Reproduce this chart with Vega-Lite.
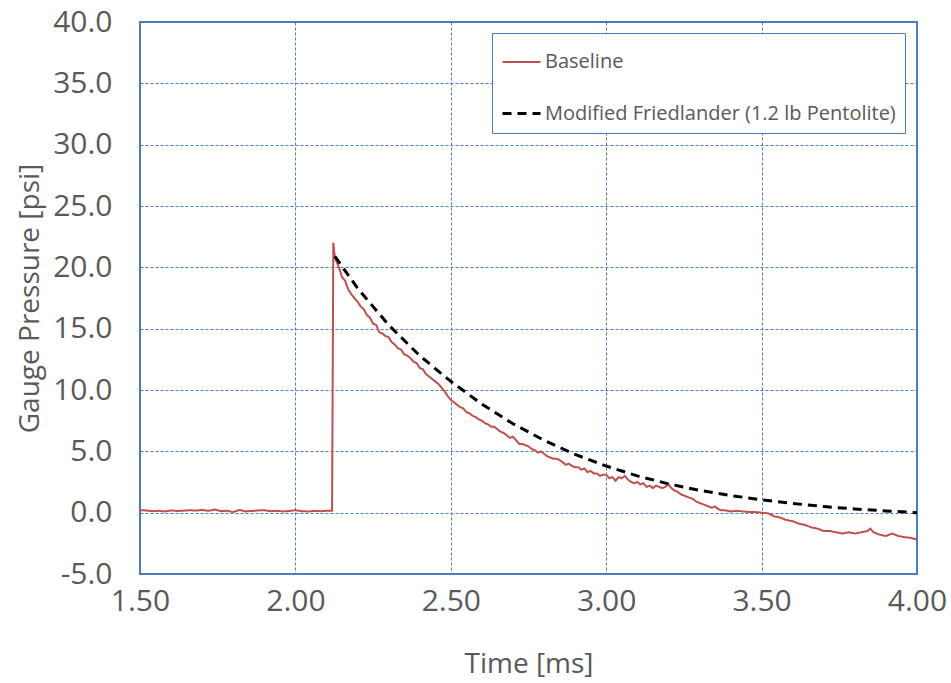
{
  "$schema": "https://vega.github.io/schema/vega-lite/v6.json",
  "width": 777,
  "height": 552,
  "autosize": "none",
  "padding": {"left": 140, "top": 22, "right": 34, "bottom": 109},
  "background": "white",
  "config": {
    "view": {"stroke": "#4A7EBB", "strokeWidth": 2},
    "axis": {
      "grid": true,
      "gridColor": "#4A7EBB",
      "gridDash": [3, 2],
      "gridWidth": 1,
      "gridOpacity": 1,
      "domain": false,
      "ticks": false,
      "labelFlush": false,
      "labelOverlap": false,
      "labelColor": "#595959",
      "labelFont": "Open Sans",
      "labelFontSize": 30,
      "titleColor": "#595959",
      "titleFont": "Open Sans",
      "titleFontSize": 28,
      "titleFontWeight": "normal"
    },
    "legend": {
      "labelFont": "Open Sans",
      "labelColor": "#595959"
    }
  },
  "datasets": {
    "baseline": [
      {"t": 1.50, "p": 0.20}, {"t": 1.52, "p": 0.18}, {"t": 1.54, "p": 0.12}, {"t": 1.56, "p": 0.15},
      {"t": 1.58, "p": 0.10}, {"t": 1.60, "p": 0.18}, {"t": 1.62, "p": 0.14}, {"t": 1.64, "p": 0.16},
      {"t": 1.66, "p": 0.20}, {"t": 1.68, "p": 0.17}, {"t": 1.70, "p": 0.22}, {"t": 1.72, "p": 0.15},
      {"t": 1.74, "p": 0.25}, {"t": 1.76, "p": 0.12}, {"t": 1.78, "p": 0.15}, {"t": 1.80, "p": 0.05},
      {"t": 1.82, "p": 0.22}, {"t": 1.84, "p": 0.10}, {"t": 1.86, "p": 0.14}, {"t": 1.88, "p": 0.18},
      {"t": 1.90, "p": 0.20}, {"t": 1.92, "p": 0.12}, {"t": 1.94, "p": 0.15}, {"t": 1.96, "p": 0.10},
      {"t": 1.98, "p": 0.14}, {"t": 2.00, "p": 0.20}, {"t": 2.02, "p": 0.12}, {"t": 2.04, "p": 0.10},
      {"t": 2.06, "p": 0.14}, {"t": 2.08, "p": 0.12}, {"t": 2.10, "p": 0.15}, {"t": 2.118, "p": 0.15},
      {"t": 2.122, "p": 22.0}, {"t": 2.126, "p": 21.0}, {"t": 2.13, "p": 20.6},
      {"t": 2.14, "p": 20.0}, {"t": 2.15, "p": 19.2}, {"t": 2.16, "p": 18.9}, {"t": 2.17, "p": 18.2},
      {"t": 2.18, "p": 17.8}, {"t": 2.19, "p": 17.5}, {"t": 2.20, "p": 17.2}, {"t": 2.21, "p": 16.8},
      {"t": 2.22, "p": 16.6}, {"t": 2.23, "p": 16.1}, {"t": 2.24, "p": 15.9}, {"t": 2.25, "p": 15.4},
      {"t": 2.26, "p": 15.3}, {"t": 2.27, "p": 14.7}, {"t": 2.28, "p": 14.6}, {"t": 2.29, "p": 14.4},
      {"t": 2.30, "p": 14.3}, {"t": 2.31, "p": 13.9}, {"t": 2.32, "p": 13.7}, {"t": 2.33, "p": 13.4},
      {"t": 2.34, "p": 13.3}, {"t": 2.35, "p": 12.9}, {"t": 2.36, "p": 12.8}, {"t": 2.37, "p": 12.6},
      {"t": 2.38, "p": 12.3}, {"t": 2.39, "p": 12.2}, {"t": 2.40, "p": 11.8}, {"t": 2.41, "p": 11.7},
      {"t": 2.42, "p": 11.3}, {"t": 2.43, "p": 11.1}, {"t": 2.44, "p": 10.9}, {"t": 2.45, "p": 10.7},
      {"t": 2.46, "p": 10.5}, {"t": 2.47, "p": 10.2}, {"t": 2.48, "p": 9.9}, {"t": 2.49, "p": 9.5},
      {"t": 2.50, "p": 9.2}, {"t": 2.51, "p": 9.0}, {"t": 2.52, "p": 8.8}, {"t": 2.53, "p": 8.6},
      {"t": 2.54, "p": 8.5}, {"t": 2.55, "p": 8.2}, {"t": 2.56, "p": 8.1}, {"t": 2.57, "p": 7.9},
      {"t": 2.58, "p": 7.8}, {"t": 2.59, "p": 7.6}, {"t": 2.60, "p": 7.5}, {"t": 2.61, "p": 7.3},
      {"t": 2.62, "p": 7.2}, {"t": 2.63, "p": 7.0}, {"t": 2.64, "p": 7.0}, {"t": 2.65, "p": 6.8},
      {"t": 2.66, "p": 6.6}, {"t": 2.67, "p": 6.5}, {"t": 2.68, "p": 6.3}, {"t": 2.69, "p": 6.1},
      {"t": 2.70, "p": 6.2}, {"t": 2.71, "p": 5.9}, {"t": 2.72, "p": 5.6}, {"t": 2.73, "p": 5.6},
      {"t": 2.74, "p": 5.5}, {"t": 2.75, "p": 5.4}, {"t": 2.76, "p": 5.2}, {"t": 2.77, "p": 5.1},
      {"t": 2.78, "p": 4.9}, {"t": 2.79, "p": 5.0}, {"t": 2.80, "p": 4.8}, {"t": 2.81, "p": 4.6},
      {"t": 2.82, "p": 4.5}, {"t": 2.83, "p": 4.4}, {"t": 2.84, "p": 4.4}, {"t": 2.85, "p": 4.3},
      {"t": 2.86, "p": 4.1}, {"t": 2.87, "p": 3.9}, {"t": 2.88, "p": 4.0}, {"t": 2.89, "p": 3.8},
      {"t": 2.90, "p": 3.7}, {"t": 2.91, "p": 3.7}, {"t": 2.92, "p": 3.5}, {"t": 2.93, "p": 3.6},
      {"t": 2.94, "p": 3.3}, {"t": 2.95, "p": 3.4}, {"t": 2.96, "p": 3.2}, {"t": 2.97, "p": 3.2},
      {"t": 2.98, "p": 3.0}, {"t": 2.99, "p": 3.1}, {"t": 3.00, "p": 3.1}, {"t": 3.01, "p": 2.8},
      {"t": 3.02, "p": 2.9}, {"t": 3.03, "p": 2.6}, {"t": 3.04, "p": 2.9}, {"t": 3.05, "p": 2.8},
      {"t": 3.06, "p": 3.0}, {"t": 3.07, "p": 2.7}, {"t": 3.08, "p": 2.5}, {"t": 3.09, "p": 2.4},
      {"t": 3.10, "p": 2.5}, {"t": 3.11, "p": 2.3}, {"t": 3.12, "p": 2.4}, {"t": 3.13, "p": 2.1},
      {"t": 3.14, "p": 2.2}, {"t": 3.15, "p": 2.0}, {"t": 3.16, "p": 2.2}, {"t": 3.17, "p": 2.1},
      {"t": 3.18, "p": 2.0}, {"t": 3.19, "p": 2.1}, {"t": 3.20, "p": 2.3}, {"t": 3.21, "p": 2.0},
      {"t": 3.22, "p": 1.8}, {"t": 3.23, "p": 1.7}, {"t": 3.24, "p": 1.5}, {"t": 3.25, "p": 1.4},
      {"t": 3.26, "p": 1.3}, {"t": 3.27, "p": 1.2}, {"t": 3.28, "p": 1.1}, {"t": 3.29, "p": 0.9},
      {"t": 3.30, "p": 0.8}, {"t": 3.31, "p": 0.7}, {"t": 3.32, "p": 0.6}, {"t": 3.33, "p": 0.5},
      {"t": 3.34, "p": 0.4}, {"t": 3.35, "p": 0.5}, {"t": 3.36, "p": 0.3}, {"t": 3.37, "p": 0.2},
      {"t": 3.38, "p": 0.2}, {"t": 3.39, "p": 0.15}, {"t": 3.40, "p": 0.1}, {"t": 3.42, "p": 0.15},
      {"t": 3.44, "p": 0.1}, {"t": 3.46, "p": 0.05}, {"t": 3.48, "p": 0.05}, {"t": 3.50, "p": 0.0},
      {"t": 3.52, "p": -0.05}, {"t": 3.54, "p": -0.3}, {"t": 3.56, "p": -0.4}, {"t": 3.58, "p": -0.6},
      {"t": 3.60, "p": -0.7}, {"t": 3.62, "p": -0.9}, {"t": 3.64, "p": -1.0}, {"t": 3.66, "p": -1.2},
      {"t": 3.68, "p": -1.3}, {"t": 3.70, "p": -1.5}, {"t": 3.72, "p": -1.5}, {"t": 3.74, "p": -1.6},
      {"t": 3.76, "p": -1.7}, {"t": 3.78, "p": -1.6}, {"t": 3.80, "p": -1.7}, {"t": 3.82, "p": -1.6},
      {"t": 3.84, "p": -1.5}, {"t": 3.85, "p": -1.3}, {"t": 3.86, "p": -1.6}, {"t": 3.88, "p": -1.8},
      {"t": 3.90, "p": -1.9}, {"t": 3.92, "p": -1.7}, {"t": 3.94, "p": -1.9}, {"t": 3.96, "p": -2.0},
      {"t": 3.98, "p": -2.05}, {"t": 4.00, "p": -2.2}
    ],
    "friedlander": [
      {"t": 2.127, "p": 20.9}, {"t": 2.20, "p": 18.3}, {"t": 2.30, "p": 15.3}, {"t": 2.40, "p": 12.8},
      {"t": 2.50, "p": 10.7}, {"t": 2.60, "p": 8.85}, {"t": 2.70, "p": 7.25}, {"t": 2.80, "p": 5.9},
      {"t": 2.90, "p": 4.75}, {"t": 3.00, "p": 3.8}, {"t": 3.10, "p": 3.0}, {"t": 3.20, "p": 2.35},
      {"t": 3.30, "p": 1.82}, {"t": 3.40, "p": 1.4}, {"t": 3.50, "p": 1.05}, {"t": 3.60, "p": 0.75},
      {"t": 3.70, "p": 0.5}, {"t": 3.80, "p": 0.3}, {"t": 3.90, "p": 0.14}, {"t": 4.00, "p": 0.0}
    ]
  },
  "layer": [
    {
      "data": {"name": "baseline"},
      "transform": [{"calculate": "'Baseline'", "as": "series"}],
      "mark": {"type": "line", "clip": true},
      "encoding": {
        "x": {"field": "t", "type": "quantitative"},
        "y": {"field": "p", "type": "quantitative"},
        "color": {"field": "series", "type": "nominal"},
        "strokeDash": {"field": "series", "type": "nominal"},
        "strokeWidth": {"field": "series", "type": "nominal"}
      }
    },
    {
      "data": {"name": "friedlander"},
      "transform": [{"calculate": "'Modified Friedlander (1.2 lb Pentolite)'", "as": "series"}],
      "mark": {"type": "line", "clip": true},
      "encoding": {
        "x": {
          "field": "t", "type": "quantitative",
          "scale": {"domain": [1.5, 4.0], "nice": false, "zero": false},
          "axis": {"title": "Time [ms]", "values": [1.5, 2.0, 2.5, 3.0, 3.5, 4.0], "format": ".2f", "labelPadding": 12, "titlePadding": 34}
        },
        "y": {
          "field": "p", "type": "quantitative",
          "scale": {"domain": [-5, 40], "nice": false, "zero": false},
          "axis": {"title": "Gauge Pressure [psi]", "values": [-5, 0, 5, 10, 15, 20, 25, 30, 35, 40], "format": ".1f", "labelExpr": "replace(datum.label, '−', '-')", "labelPadding": 28, "titlePadding": 8}
        },
        "color": {
          "field": "series", "type": "nominal",
          "scale": {"domain": ["Baseline", "Modified Friedlander (1.2 lb Pentolite)"], "range": ["#C0504D", "#000000"]},
          "legend": {
            "title": null, "orient": "none", "legendX": 352, "legendY": 11,
            "padding": 9, "strokeColor": "#4A7EBB", "fillColor": "white",
            "symbolType": "stroke", "symbolSize": 1444, "labelFontSize": 20, "labelLimit": 600,
            "rowPadding": 21, "labelOffset": 3
          }
        },
        "strokeDash": {
          "field": "series", "type": "nominal",
          "scale": {"domain": ["Baseline", "Modified Friedlander (1.2 lb Pentolite)"], "range": [[1, 0], [9, 6]]},
          "legend": {
            "title": null, "orient": "none", "legendX": 352, "legendY": 11,
            "padding": 9, "strokeColor": "#4A7EBB", "fillColor": "white",
            "symbolType": "stroke", "symbolSize": 1444, "labelFontSize": 20, "labelLimit": 600,
            "rowPadding": 21, "labelOffset": 3
          }
        },
        "strokeWidth": {
          "field": "series", "type": "nominal",
          "scale": {"domain": ["Baseline", "Modified Friedlander (1.2 lb Pentolite)"], "range": [2, 3]},
          "legend": {
            "title": null, "orient": "none", "legendX": 352, "legendY": 11,
            "padding": 9, "strokeColor": "#4A7EBB", "fillColor": "white",
            "symbolType": "stroke", "symbolSize": 1444, "labelFontSize": 20, "labelLimit": 600,
            "rowPadding": 21, "labelOffset": 3
          }
        }
      }
    }
  ]
}
